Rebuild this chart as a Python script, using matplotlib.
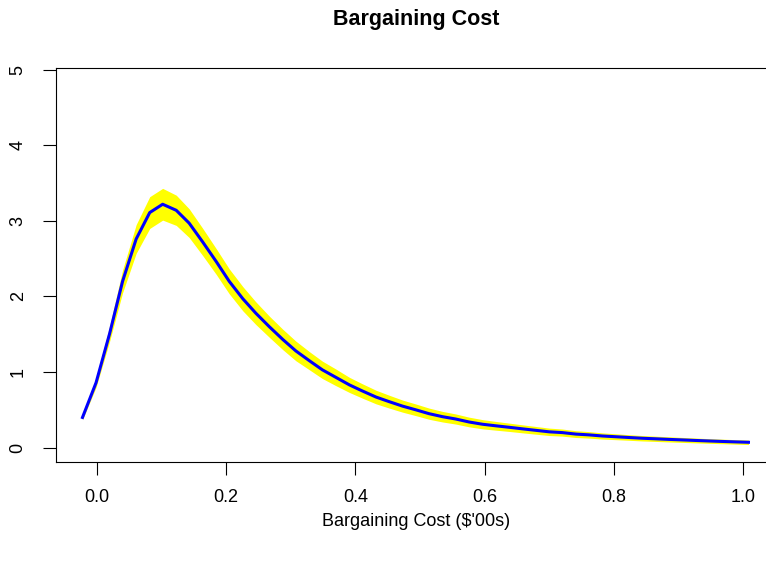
import matplotlib
matplotlib.use("Agg")
import matplotlib.pyplot as plt
import numpy as np

plt.rcParams['font.family'] = ['Liberation Sans', 'DejaVu Sans']

# bargaining cost grid ($'00s)
cost = [-0.022, -0.001, 0.020, 0.040, 0.061, 0.082, 0.102, 0.123, 0.143, 0.164,
        0.185, 0.205, 0.226, 0.246, 0.267, 0.288, 0.308, 0.329, 0.349, 0.370,
        0.391, 0.411, 0.432, 0.452, 0.473, 0.494, 0.514, 0.535, 0.555, 0.576,
        0.597, 0.617, 0.638, 0.658, 0.679, 0.700, 0.720, 0.741, 0.761, 0.782,
        0.803, 0.823, 0.844, 0.864, 0.885, 0.906, 0.926, 0.947, 0.967, 0.988,
        1.008]

# density estimate
density = [0.40, 0.86, 1.51, 2.20, 2.76, 3.11, 3.22, 3.14, 2.97, 2.72,
           2.46, 2.20, 1.97, 1.78, 1.60, 1.43, 1.28, 1.15, 1.03, 0.93,
           0.83, 0.75, 0.67, 0.61, 0.55, 0.50, 0.45, 0.41, 0.38, 0.34,
           0.31, 0.29, 0.27, 0.25, 0.23, 0.21, 0.20, 0.18, 0.17, 0.155,
           0.145, 0.135, 0.125, 0.118, 0.110, 0.103, 0.096, 0.089, 0.083, 0.077,
           0.072]

# half width of the band
band = [0.03, 0.06, 0.10, 0.15, 0.19, 0.21, 0.21, 0.20, 0.19, 0.18,
        0.17, 0.165, 0.16, 0.15, 0.14, 0.135, 0.13, 0.12, 0.115, 0.11,
        0.10, 0.095, 0.09, 0.085, 0.08, 0.077, 0.074, 0.07, 0.067, 0.064,
        0.061, 0.058, 0.055, 0.053, 0.051, 0.049, 0.047, 0.045, 0.043, 0.041,
        0.039, 0.037, 0.036, 0.035, 0.034, 0.033, 0.032, 0.031, 0.030, 0.030,
        0.030]

xticks = [0.0, 0.2, 0.4, 0.6, 0.8, 1.0]
yticks = [0, 1, 2, 3, 4, 5]

W, H = 766, 566
fig = plt.figure(figsize=(W / 100, H / 100), dpi=100)
# plot region in pixels: left 56, right beyond the edge, top 68, bottom 462
ax = fig.add_axes([56.3 / W, (H - 462) / H, (776 - 56.3) / W, (462 - 68.3) / H])

d = np.array(density)
b = np.array(band)
ax.fill_between(cost, d - b, d + b, color='yellow', linewidth=0)
ax.plot(cost, density, color='blue', linewidth=2.2)

ax.set_xlim(-0.0625, 1.0506)
ax.set_ylim(-0.189, 5.018)
ax.set_xticks(xticks)
ax.set_xticklabels(['%.1f' % t for t in xticks])
ax.set_yticks(yticks)
ax.set_yticklabels([str(t) for t in yticks], rotation=90, va='center')

for s in ax.spines.values():
    s.set_linewidth(0.8)
ax.tick_params(axis='both', length=9.3, width=0.8, labelsize=13)
ax.tick_params(axis='x', pad=10)
ax.tick_params(axis='y', pad=12)

fig.text(416 / W, 1 - 20 / H, 'Bargaining Cost', ha='center', va='center',
         fontsize=15.5, fontweight='bold')
fig.text(416 / W, 1 - 522 / H, "Bargaining Cost ($'00s)", ha='center',
         va='center', fontsize=13)

fig.savefig('out.png', dpi=100)
